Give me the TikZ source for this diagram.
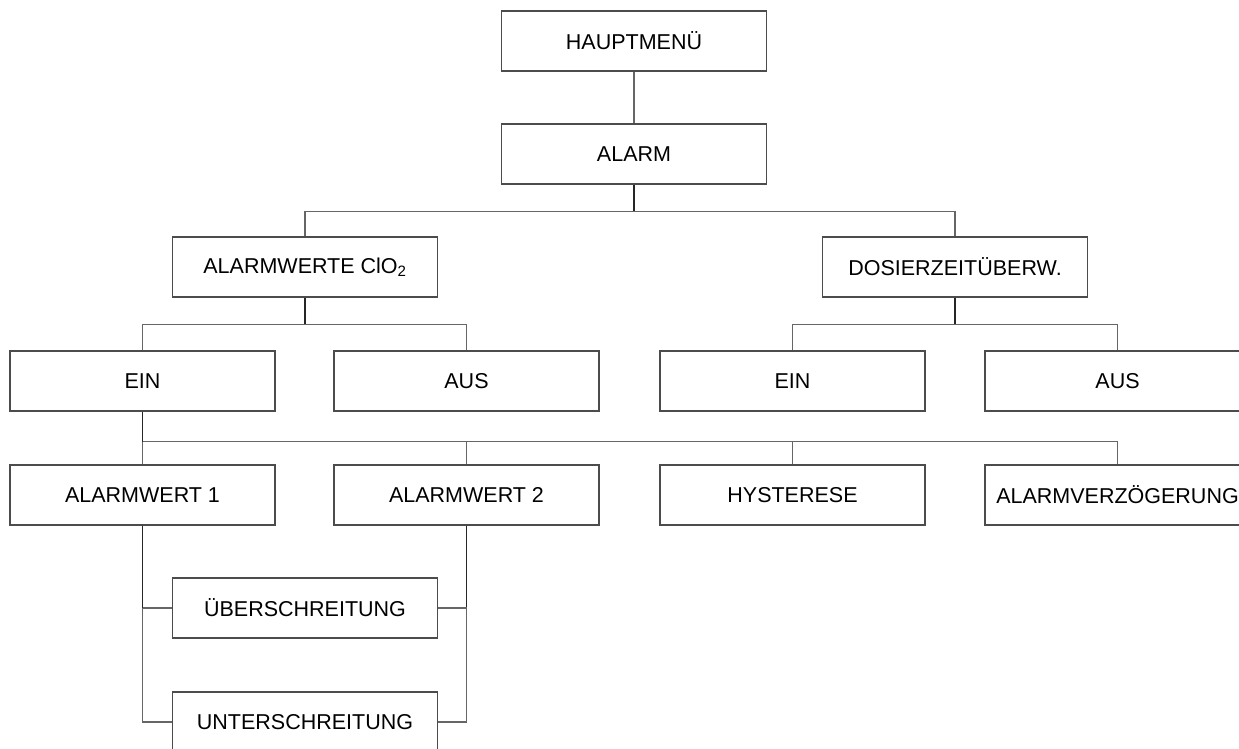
\documentclass[tikz,border=0pt]{standalone}
\usepackage{fontspec}
\setmainfont{Liberation Sans}
\begin{document}
\begin{tikzpicture}[x=1pt, y=-1pt,
    menubox/.style={draw=black!70, line width=1.3pt, minimum width=265pt,
      minimum height=60pt, inner sep=0pt,
      font=\fontsize{21.5}{26}\selectfont},
    bus/.style={draw=black!60, line width=1.3pt},
    stem/.style={draw=black!85, line width=1.3pt}]
  \clip (0, 0) rectangle (1239, 749);

  \node[menubox] (haupt) at (634, 41) {HAUPTMENÜ};
  \node[menubox] (alarm) at (634, 154) {ALARM};

  \node[menubox] (werte) at (305, 267) {ALARMWERTE ClO\textsubscript{2}};
  \node[menubox] (dosier) at (955, 267) {DOSIERZEITÜBERW.};

  \node[menubox] (ein1) at (142.5, 381) {EIN};
  \node[menubox] (aus1) at (466.5, 381) {AUS};
  \node[menubox] (ein2) at (792.5, 381) {EIN};
  \node[menubox] (aus2) at (1117.5, 381) {AUS};

  \node[menubox] (wert1) at (142.5, 495) {ALARMWERT 1};
  \node[menubox] (wert2) at (466.5, 495) {ALARMWERT 2};
  \node[menubox] (hyst) at (792.5, 495) {HYSTERESE};
  \node[menubox] (verz) at (1117.5, 495) {ALARMVERZÖGERUNG};

  \node[menubox] (ueber) at (305, 608) {ÜBERSCHREITUNG};
  \node[menubox] (unter) at (305, 722) {UNTERSCHREITUNG};

  \draw[bus] (haupt) -- (alarm);

  \draw[stem] (alarm.south) -- ++(0, 27) coordinate (b1);
  \draw[bus] (werte.north) |- (b1) -| (dosier.north);

  \draw[stem] (werte.south) -- ++(0, 27) coordinate (b2);
  \draw[bus] (ein1.north) |- (b2) -| (aus1.north);
  \draw[stem] (dosier.south) -- ++(0, 27) coordinate (b3);
  \draw[bus] (ein2.north) |- (b3) -| (aus2.north);

  \draw[stem] (ein1.south) -- ++(0, 30) coordinate (b4);
  \foreach \n in {wert1, wert2, hyst, verz}
    \draw[bus] (b4) -| (\n.north);

  \draw[stem] (wert1.south) -- (wert1.south |- ueber.west) coordinate (l1);
  \draw[bus] (l1) -- (ueber.west);
  \draw[bus] (l1) |- (unter.west);
  \draw[stem] (wert2.south) -- (wert2.south |- ueber.east) coordinate (r1);
  \draw[bus] (r1) -- (ueber.east);
  \draw[bus] (r1) |- (unter.east);
\end{tikzpicture}
\end{document}
